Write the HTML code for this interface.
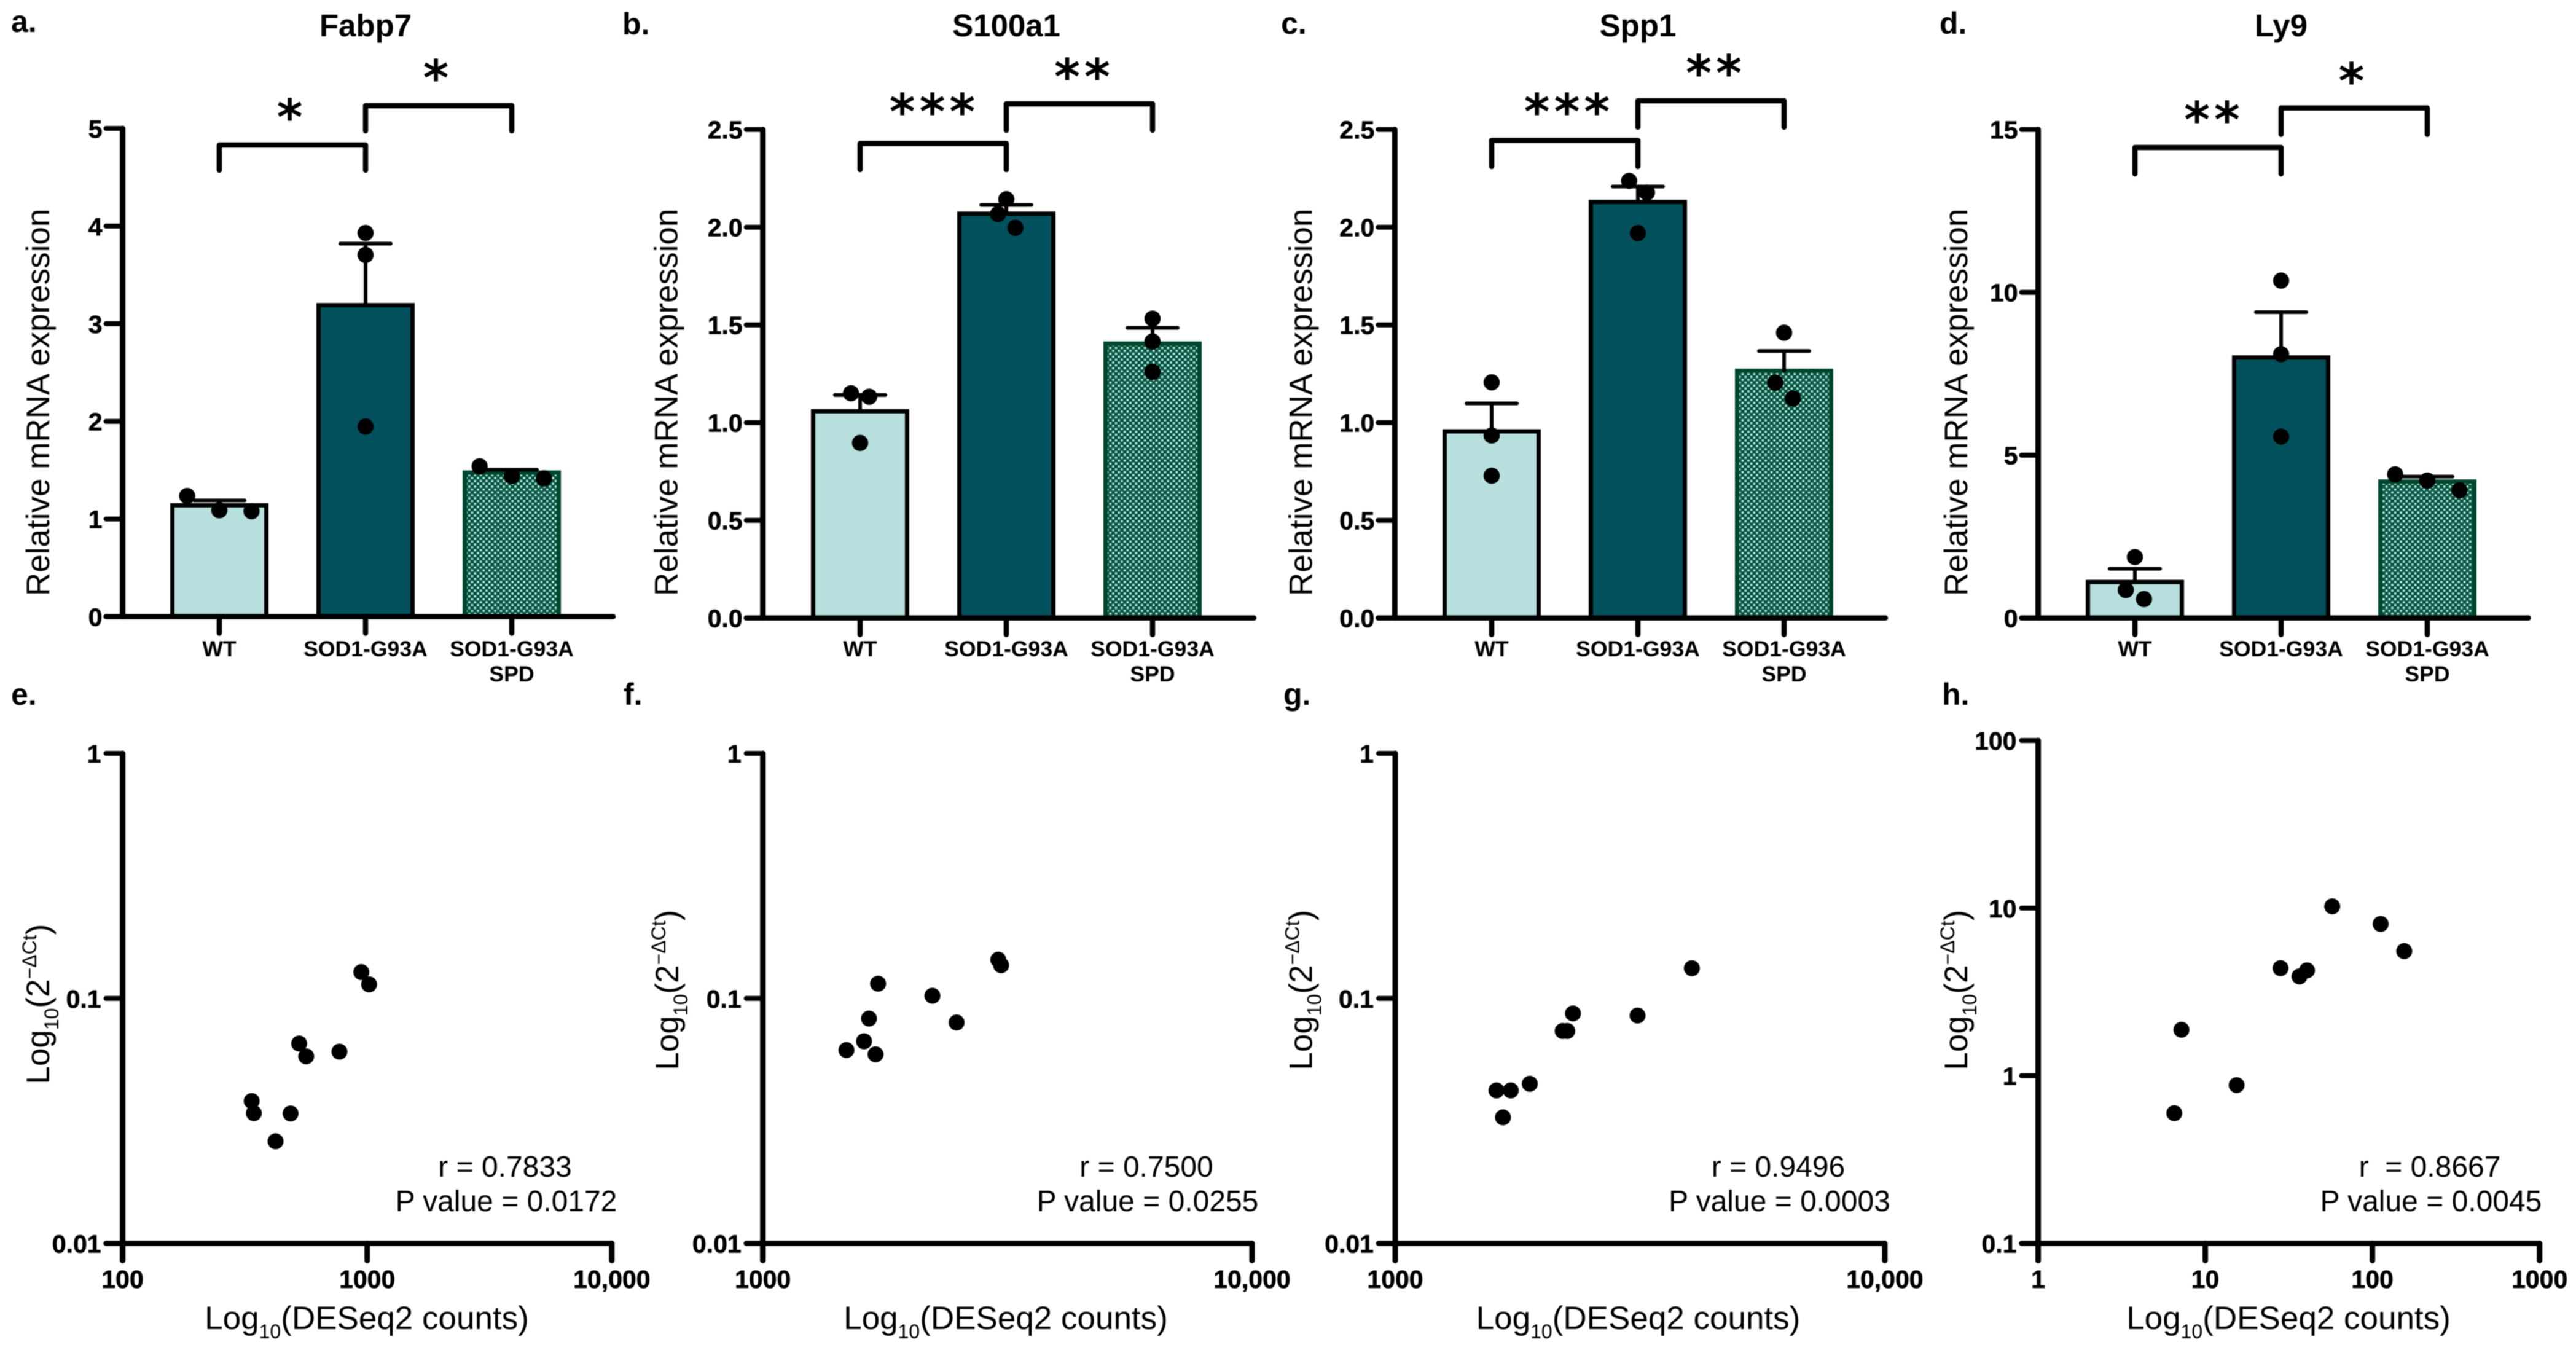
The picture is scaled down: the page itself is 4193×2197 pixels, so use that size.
<!DOCTYPE html>
<html lang="en">
<head>
<meta charset="utf-8">
<title>Relative mRNA expression and DESeq2 correlation panels</title>
<style>
html,body{margin:0;padding:0;background:#fff;width:4193px;height:2197px;overflow:hidden}
svg{display:block;filter:blur(0.9px)}
text{font-family:"Liberation Sans",sans-serif;fill:#000}
</style>
</head>
<body>
<svg id="figure" xmlns="http://www.w3.org/2000/svg" width="4193" height="2197" viewBox="0 0 4193 2197">
<defs>
<pattern id="spd-check" patternUnits="userSpaceOnUse" width="9.4" height="9.4">
<rect width="9.4" height="9.4" fill="#00543f"/>
<rect x="0.6" y="0.6" width="3.6" height="3.6" fill="#c2e6e0"/>
<rect x="5.3" y="5.3" width="3.6" height="3.6" fill="#c2e6e0"/>
</pattern>
</defs>
<rect width="4193" height="2197" fill="#fff"/>
</svg>
<script>
// ---------- bar chart data ----------
const groupLabels = [["WT"], ["SOD1-G93A"], ["SOD1-G93A", "SPD"]];

const fabp7Ticks = ["0", "1", "2", "3", "4", "5"];
const fabp7Means = [1.14, 3.19, 1.475];
const fabp7Errors = [0.05, 0.63, 0.03];
const fabp7Points = [[1.236, 1.09, 1.08], [3.93, 3.705, 1.947], [1.54, 1.44, 1.416]];
const fabp7Jitter = [[-0.22, 0, 0.22], [0, 0, 0], [-0.22, 0, 0.22]];

const s100a1Ticks = ["0.0", "0.5", "1.0", "1.5", "2.0", "2.5"];
const s100a1Means = [1.058, 2.069, 1.404];
const s100a1Errors = [0.083, 0.045, 0.081];
const s100a1Points = [[1.15, 1.132, 0.896], [2.143, 2.067, 1.997], [1.532, 1.415, 1.26]];
const s100a1Jitter = [[-0.062, 0.062, 0], [0, -0.057, 0.062], [0, 0, 0]];

const spp1Ticks = ["0.0", "0.5", "1.0", "1.5", "2.0", "2.5"];
const spp1Means = [0.955, 2.129, 1.265];
const spp1Errors = [0.143, 0.079, 0.101];
const spp1Points = [[1.206, 0.934, 0.728], [2.237, 2.177, 1.97], [1.46, 1.204, 1.123]];
const spp1Jitter = [[0, 0, 0], [-0.06, 0.062, 0], [0, -0.06, 0.06]];

const ly9Ticks = ["0", "5", "10", "15"];
const ly9Means = [1.105, 8.0, 4.19];
const ly9Errors = [0.405, 1.39, 0.15];
const ly9Points = [[1.87, 0.86, 0.58], [10.36, 8.1, 5.57], [4.41, 4.22, 3.92]];
const ly9Jitter = [[0, -0.062, 0.062], [0, 0, 0], [-0.22, 0, 0.22]];

// ---------- scatter data ----------
const fabp7Counts = [946, 1018, 527, 563, 770, 337, 344, 486, 422];
const fabp7Delta = [0.128, 0.114, 0.0654, 0.058, 0.0606, 0.0381, 0.034, 0.0339, 0.0261];
const s100a1Counts = [1720, 2221, 3028, 3069, 1648, 2489, 1610, 1482, 1700];
const s100a1Delta = [0.1148, 0.1025, 0.1439, 0.1365, 0.0827, 0.0797, 0.0668, 0.0615, 0.0591];
const spp1Counts = [4036, 3126, 2307, 2198, 2246, 1883, 1610, 1722, 1660];
const spp1Delta = [0.1327, 0.0851, 0.0868, 0.0736, 0.0736, 0.0448, 0.0421, 0.0421, 0.0327];
const ly9Counts = [57.5, 112, 155, 28.2, 40.6, 36.6, 7.2, 15.4, 6.53];
const ly9Delta = [10.24, 8.04, 5.54, 4.38, 4.25, 3.91, 1.88, 0.879, 0.598];

const decadeYTicks = ["0.01", "0.1", "1"];
const ly9YTicks = ["0.1", "1", "10", "100"];
const xTicks100 = ["100", "1000", "10,000"];
const xTicks1000 = ["1000", "10,000"];
const xTicksOne = ["1", "10", "100", "1000"];

// ---------- drawing helpers ----------
const NS = "http://www.w3.org/2000/svg";
const root = document.getElementById("figure");
const barFills = ["#b7dfdd", "#02515d", "url(#spd-check)"];
const barStrokes = ["#000", "#000", "#00472f"];
const barSlugs = ["wt", "sod1-g93a", "sod1-g93a-spd"];

function mk(tag, attrs, parent, txt) {
  const n = document.createElementNS(NS, tag);
  for (const k in attrs) n.setAttribute(k, attrs[k]);
  if (txt !== undefined) n.textContent = txt;
  parent.appendChild(n);
  return n;
}
function line(parent, x1, y1, x2, y2, w) {
  return mk("line", {x1, y1, x2, y2, stroke: "#000", "stroke-width": w, "stroke-linecap": "round"}, parent);
}
function logTitleX(parent, cx, y) {
  const t = mk("text", {x: cx, y, "font-size": 53, "text-anchor": "middle"}, parent);
  mk("tspan", {}, t, "Log");
  mk("tspan", {"font-size": 32, dy: 15}, t, "10");
  mk("tspan", {dy: -15}, t, "(DESeq2 counts)");
  return t;
}
function logTitleY(parent, x, yStart) {
  const t = mk("text", {transform: "translate(" + x + "," + yStart + ") rotate(-90)", "font-size": 53}, parent);
  mk("tspan", {}, t, "Log");
  mk("tspan", {"font-size": 32, dy: 15}, t, "10");
  mk("tspan", {dy: -15}, t, "(2");
  mk("tspan", {"font-size": 32, dy: -21}, t, "\u2212\u0394Ct");
  mk("tspan", {dy: 21}, t, ")");
  return t;
}

function barPanel(p) {
  const g = mk("g", {}, root);
  
  

  const maxV = parseFloat(p.ticks[p.ticks.length - 1]);
  const yOf = v => p.y0 - (v / maxV) * (p.y0 - p.yTop);
  const xOf = i => p.cat0 + i * p.step;

  const letter = mk("text", {x: p.letterX, y: p.letterY - 2, "font-size": 50, "font-weight": "bold"}, g, p.letter);
  
  

  const title = mk("text", {x: xOf(1), y: 59, "font-size": 51, "font-weight": "bold", "text-anchor": "middle"}, g, p.title);
  
  

  const yt = mk("text", {transform: "translate(" + p.titleX + ",970) rotate(-90)", "font-size": 53}, g, "Relative mRNA expression");
  
  

  p.means.forEach((m, i) => {
    const top = yOf(m);
    const barW = 153;
    const bar = mk("rect", {x: xOf(i) - barW / 2, y: top, width: barW, height: p.y0 - top, fill: barFills[i], stroke: barStrokes[i], "stroke-width": 7}, g);
    
    

    const capY = yOf(m + p.errors[i]);
    const whisker = line(g, xOf(i), top, xOf(i), capY, 6);
    
    
    const cap = line(g, xOf(i) - 41, capY, xOf(i) + 41, capY, 6);
    
    
  });

  p.points.forEach((grp, i) => {
    grp.forEach((v, j) => {
      const dot = mk("circle", {cx: xOf(i) + p.jitter[i][j] * p.step, cy: yOf(v), r: 13.2, fill: "#000"}, g);
      
      
    });
  });

  const yAxis = line(g, p.axisX, p.yTop, p.axisX, p.y0, 9);
  
  
  const xAxis = line(g, p.axisX - 27, p.y0, p.right, p.y0, 8.5);
  
  

  p.ticks.forEach(t => {
    const y = yOf(parseFloat(t));
    const tick = line(g, p.axisX - 27, y, p.axisX, y, 8);
    
    
    const lab = mk("text", {x: p.axisX - 33, y: y + 15, "font-size": 41, "font-weight": "bold", "text-anchor": "end", stroke: "#000", "stroke-width": 0.6}, g, t);
    
    
  });

  groupLabels.forEach((lines, i) => {
    const tick = line(g, xOf(i), p.y0, xOf(i), p.y0 + 27, 8.5);
    
    
    lines.forEach((txt, k) => {
      const lab = mk("text", {x: xOf(i), y: 1068 + k * 41, "font-size": 35.6, "font-weight": "bold", "text-anchor": "middle"}, g, txt);
      
      
    });
  });

  p.brackets.forEach((b, k) => {
    const br = mk("path", {d: "M" + xOf(b.from) + " " + b.bottom + "V" + b.top + "H" + xOf(b.to) + "V" + b.bottom, fill: "none", stroke: "#000", "stroke-width": 8.5, "stroke-linecap": "round", "stroke-linejoin": "round"}, g);
    
    
    const star = mk("text", {x: b.starX + 5, y: b.starY + 35, "font-size": 80, "font-weight": "bold", "text-anchor": "middle", "letter-spacing": "7", style: 'font-family:"DejaVu Sans",sans-serif'}, g, b.stars);
    
    
  });
}

function scatterPanel(p) {
  const g = mk("g", {}, root);
  
  

  const num = s => parseFloat(s.replace(/,/g, ""));
  const lxMin = Math.log10(num(p.xTicks[0]));
  const lxMax = Math.log10(num(p.xTicks[p.xTicks.length - 1]));
  const lyMin = Math.log10(num(p.yTicks[0]));
  const lyMax = Math.log10(num(p.yTicks[p.yTicks.length - 1]));
  const xOf = v => p.axisX + (Math.log10(v) - lxMin) / (lxMax - lxMin) * (p.right - p.axisX);
  const yOf = v => p.y0 - (Math.log10(v) - lyMin) / (lyMax - lyMin) * (p.y0 - p.yTop);

  const letter = mk("text", {x: p.letterX, y: 1147, "font-size": 50, "font-weight": "bold"}, g, p.letter);
  
  

  p.counts.forEach((c, i) => {
    const dot = mk("circle", {cx: xOf(c), cy: yOf(p.delta[i]), r: 13, fill: "#000"}, g);
    
    
  });

  const yAxis = line(g, p.axisX, p.yTop, p.axisX, p.y0 + 28, 9);
  
  
  const xAxis = line(g, p.axisX - 27, p.y0, p.right, p.y0, 8.5);
  
  

  p.yTicks.forEach(t => {
    const y = yOf(num(t));
    const tick = line(g, p.axisX - 27, y, p.axisX, y, 8);
    
    
    const lab = mk("text", {x: p.axisX - 35, y: y + 15, "font-size": 41, "font-weight": "bold", "text-anchor": "end", stroke: "#000", "stroke-width": 0.6}, g, t);
    
    
  });

  p.xTicks.forEach(t => {
    const x = xOf(num(t));
    const tick = line(g, x, p.y0, x, p.y0 + 28, 9);
    
    
    const lab = mk("text", {x, y: 2096, "font-size": 41, "font-weight": "bold", "text-anchor": "middle", stroke: "#000", "stroke-width": 0.6}, g, t);
    
    
  });

  const xt = logTitleX(g, p.xTitleX, 2163);
  
  
  const yt = logTitleY(g, p.titleX, p.titleY);
  
  

  const rText = mk("text", {x: p.statX - 2, y: 1915, "font-size": 48, "text-anchor": "middle"}, g, p.rLabel);
  
  
  const pText = mk("text", {x: p.statX, y: 1971, "font-size": 48, "text-anchor": "middle"}, g, p.pLabel);
  
  
}

// ---------- panels ----------
barPanel({slug: "fabp7", title: "Fabp7", letter: "a.", letterX: 18, letterY: 54, ticks: fabp7Ticks, means: fabp7Means, errors: fabp7Errors, points: fabp7Points, jitter: fabp7Jitter,
  axisX: 199.6, right: 998, y0: 1003.5, yTop: 209, cat0: 357, step: 238, titleX: 80,
  brackets: [{from: 0, to: 1, top: 236, bottom: 277, stars: "*", starX: 470, starY: 184}, {from: 1, to: 2, top: 172, bottom: 213, stars: "*", starX: 708, starY: 120}]});
barPanel({slug: "s100a1", title: "S100a1", letter: "b.", letterX: 1013, letterY: 58, ticks: s100a1Ticks, means: s100a1Means, errors: s100a1Errors, points: s100a1Points, jitter: s100a1Jitter,
  axisX: 1241.7, right: 2041, y0: 1005.7, yTop: 210.7, cat0: 1400, step: 238, titleX: 1102.5,
  brackets: [{from: 0, to: 1, top: 233.5, bottom: 276, stars: "***", starX: 1516, starY: 175}, {from: 1, to: 2, top: 169, bottom: 212, stars: "**", starX: 1760, starY: 118}]});
barPanel({slug: "spp1", title: "Spp1", letter: "c.", letterX: 2085, letterY: 57, ticks: spp1Ticks, means: spp1Means, errors: spp1Errors, points: spp1Points, jitter: spp1Jitter,
  axisX: 2270.3, right: 3069, y0: 1005.7, yTop: 210.7, cat0: 2428, step: 238, titleX: 2135.7,
  brackets: [{from: 0, to: 1, top: 228.5, bottom: 271, stars: "***", starX: 2549, starY: 175}, {from: 1, to: 2, top: 164, bottom: 207, stars: "**", starX: 2788, starY: 112}]});
barPanel({slug: "ly9", title: "Ly9", letter: "d.", letterX: 3157, letterY: 57, ticks: ly9Ticks, means: ly9Means, errors: ly9Errors, points: ly9Points, jitter: ly9Jitter,
  axisX: 3317.5, right: 4115.6, y0: 1005.7, yTop: 210.7, cat0: 3475, step: 238, titleX: 3201.8,
  brackets: [{from: 0, to: 1, top: 240, bottom: 283, stars: "**", starX: 3599, starY: 188}, {from: 1, to: 2, top: 175.7, bottom: 218.6, stars: "*", starX: 3826, starY: 125}]});

scatterPanel({slug: "fabp7-correlation", letter: "e.", letterX: 18, counts: fabp7Counts, delta: fabp7Delta, xTicks: xTicks100, yTicks: decadeYTicks,
  axisX: 199.6, right: 995.8, y0: 2023.5, yTop: 1226, titleX: 80, titleY: 1764.6, xTitleX: 597, statX: 824, rLabel: "r = 0.7833", pLabel: "P value = 0.0172"});
scatterPanel({slug: "s100a1-correlation", letter: "f.", letterX: 1015, counts: s100a1Counts, delta: s100a1Delta, xTicks: xTicks1000, yTicks: decadeYTicks,
  axisX: 1241.7, right: 2038, y0: 2023.5, yTop: 1226, titleX: 1103.8, titleY: 1741.6, xTitleX: 1637, statX: 1868, rLabel: "r = 0.7500", pLabel: "P value = 0.0255"});
scatterPanel({slug: "spp1-correlation", letter: "g.", letterX: 2089, counts: spp1Counts, delta: spp1Delta, xTicks: xTicks1000, yTicks: decadeYTicks,
  axisX: 2271, right: 3067.9, y0: 2023.5, yTop: 1226, titleX: 2135.7, titleY: 1741.6, xTitleX: 2666.5, statX: 2896.5, rLabel: "r = 0.9496", pLabel: "P value = 0.0003"});
scatterPanel({slug: "ly9-correlation", letter: "h.", letterX: 3161, counts: ly9Counts, delta: ly9Delta, xTicks: xTicksOne, yTicks: ly9YTicks,
  axisX: 3317.5, right: 4133.7, y0: 2023.5, yTop: 1205, titleX: 3201.8, titleY: 1741.6, xTitleX: 3725, statX: 3957, rLabel: "r\u00a0 = 0.8667", pLabel: "P value = 0.0045"});
</script>
</body>
</html>
